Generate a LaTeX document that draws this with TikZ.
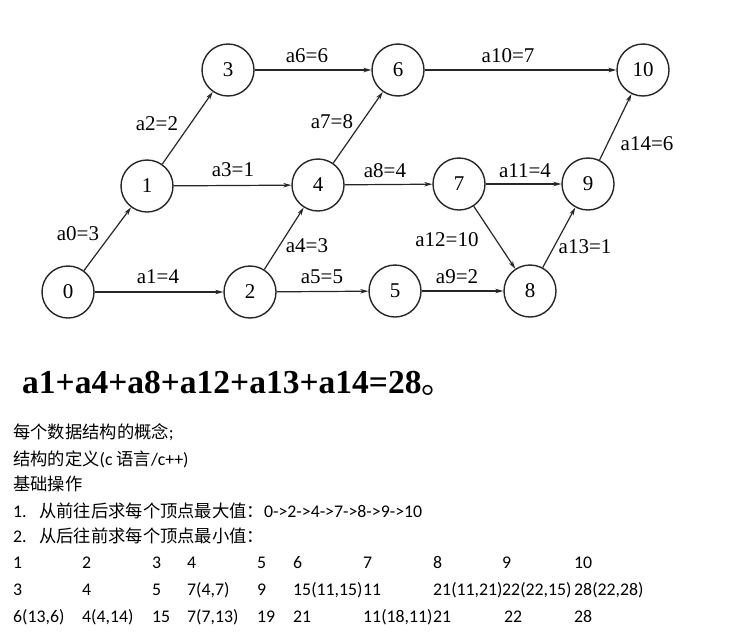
\documentclass[tikz,border=0pt]{standalone}
\usepackage{fontspec}
\setmainfont{Carlito}
\newfontfamily\cjk{Noto Sans CJK SC}
\newfontfamily\ser{Liberation Serif}
\usetikzlibrary{arrows.meta}
\begin{document}
\begin{tikzpicture}[x=1pt,y=-1pt,
  vtx/.style={circle,draw=black!85,line width=1.4pt,minimum size=52pt,inner sep=0pt,font=\ser\fontsize{21}{21}\selectfont},
  arc/.style={draw=black!85,line width=1.2pt,-{Stealth[length=8pt,width=4.5pt]}},
  lbl/.style={font=\ser\fontsize{21}{21}\selectfont,inner sep=0pt},
  txt/.style={anchor=base west,inner sep=0pt,font=\fontsize{17.8}{20}\selectfont},
  zh/.style={},
]
\useasboundingbox (0,0) rectangle (743,640);
% vertices
\node[vtx] (v0) at (68,292) {0};
\node[vtx] (v1) at (147,186) {1};
\node[vtx] (v2) at (250,292) {2};
\node[vtx] (v3) at (228,70) {3};
\node[vtx] (v4) at (318,185) {4};
\node[vtx] (v5) at (395,291) {5};
\node[vtx] (v6) at (398,70) {6};
\node[vtx] (v7) at (459,184) {7};
\node[vtx] (v8) at (530,291) {8};
\node[vtx] (v9) at (588,184) {9};
\node[vtx] (v10) at (643,70) {10};
% arcs
\draw[arc] (v0) -- (v1);
\draw[arc] (v0) -- (v2);
\draw[arc] (v1) -- (v3);
\draw[arc] (v1) -- (v4);
\draw[arc] (v2) -- (v4);
\draw[arc] (v2) -- (v5);
\draw[arc] (v3) -- (v6);
\draw[arc] (v4) -- (v6);
\draw[arc] (v4) -- (v7);
\draw[arc] (v5) -- (v8);
\draw[arc] (v6) -- (v10);
\draw[arc] (v7) -- (v9);
\draw[arc] (v7) -- (v8);
\draw[arc] (v8) -- (v9);
\draw[arc] (v9) -- (v10);
% labels
\node[lbl] (l0) at (78,234) {a0=3};
\node[lbl] (l1) at (158,277) {a1=4};
\node[lbl] (l2) at (157,124) {a2=2};
\node[lbl] (l3) at (233,170) {a3=1};
\node[lbl] (l4) at (307,246) {a4=3};
\node[lbl] (l5) at (322,277) {a5=5};
\node[lbl] (l6) at (307,56) {a6=6};
\node[lbl] (l7) at (332,122) {a7=8};
\node[lbl] (l8) at (385,171) {a8=4};
\node[lbl] (l9) at (457,277) {a9=2};
\node[lbl] (l10) at (508,56) {a10=7};
\node[lbl] (l11) at (525,171) {a11=4};
\node[lbl] (l12) at (447,240) {a12=10};
\node[lbl] (l13) at (585,247) {a13=1};
\node[lbl] (l14) at (647,144) {a14=6};
% formula
\node[anchor=base west,inner sep=0pt,font=\ser\bfseries\fontsize{33.5}{34}\selectfont] (f) at (22,393) {a1+a4+a8+a12+a13+a14=28{\cjk\mdseries 。}};
% text lines
\node[txt] (t1) at (13,438) {{\cjk\fontsize{17.3}{20}\selectfont 每个数据结构的概念};};
\node[txt] (t2) at (13,465) {{\cjk\fontsize{17.3}{20}\selectfont 结构的定义}(c {\cjk\fontsize{17.3}{20}\selectfont 语言}/c++)};
\node[txt] (t3) at (13,490) {{\cjk\fontsize{17.3}{20}\selectfont 基础操作}};
\node[txt] (n1) at (13,517) {1.};
\node[txt] (t4) at (39,517) {{\cjk\fontsize{17.3}{20}\selectfont 从前往后求每个顶点最大值：}0->2->4->7->8->9->10};
\node[txt] (n2) at (13,542) {2.};
\node[txt] (t5) at (39,542) {{\cjk\fontsize{17.3}{20}\selectfont 从后往前求每个顶点最小值：}};
% table
\foreach \x/\t [count=\i] in {13/1,82/2,152/3,187/4,257/5,293/6,363/7,433/8,502/9,574/10}
  \node[txt] (ra\i) at (\x,568) {\t};
\foreach \x/\t [count=\i] in {13/3,82/4,152/5,187/{7(4,7)},257/9,293/{15(11,15)},363/11,433/{21(11,21)},502/{22(22,15)},574/{28(22,28)}}
  \node[txt] (rb\i) at (\x,595) {\t};
\foreach \x/\t [count=\i] in {13/{6(13,6)},82/{4(4,14)},152/15,187/{7(7,13)},257/19,293/21,363/{11(18,11)},433/21,504/22,574/28}
  \node[txt] (rc\i) at (\x,622) {\t};
\end{tikzpicture}
\end{document}
